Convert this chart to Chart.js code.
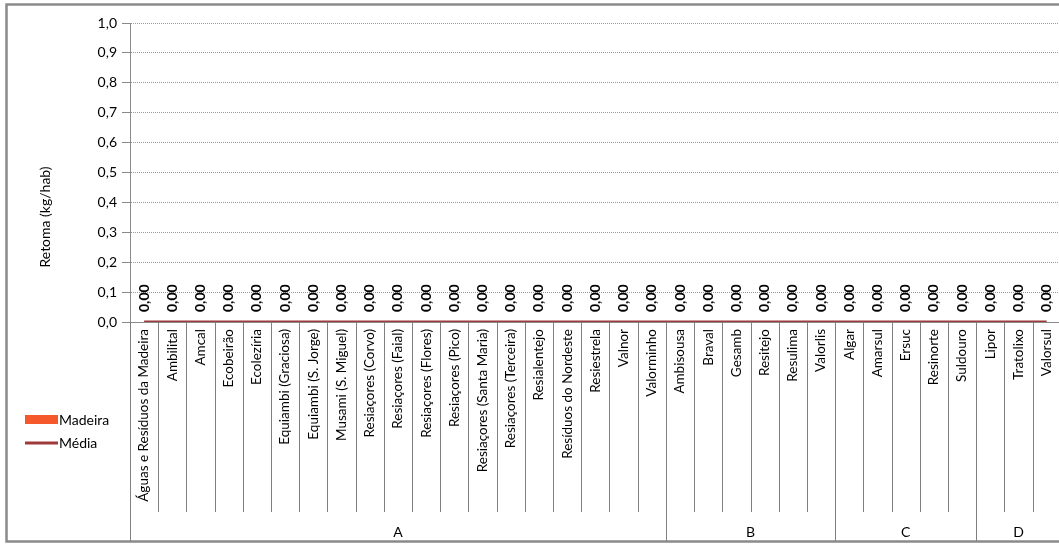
<!DOCTYPE html>
<html>
<head>
<meta charset="utf-8">
<script src="https://cdn.jsdelivr.net/npm/chart.js@4/dist/chart.umd.min.js"></script>
<style>
  html, body { margin: 0; padding: 0; background: #fff; overflow: hidden; }
  #grafico { position: absolute; left: 0; top: 0; }
</style>
</head>
<body>
<canvas id="grafico" width="1070" height="545"></canvas>
<script>
const categorias = [
  'Águas e Resíduos da Madeira', 'Ambilital', 'Amcal', 'Ecobeirão', 'Ecolezíria',
  'Equiambi (Graciosa)', 'Equiambi (S. Jorge)', 'Musami (S. Miguel)', 'Resiaçores (Corvo)',
  'Resiaçores (Faial)', 'Resiaçores (Flores)', 'Resiaçores (Pico)', 'Resiaçores (Santa Maria)',
  'Resiaçores (Terceira)', 'Resialentejo', 'Resíduos do Nordeste', 'Resiestrela', 'Valnor',
  'Valorminho',
  'Ambisousa', 'Braval', 'Gesamb', 'Resitejo', 'Resulima', 'Valorlis',
  'Algar', 'Amarsul', 'Ersuc', 'Resinorte', 'Suldouro',
  'Lipor', 'Tratolixo', 'Valorsul'
];
const grupos = ['A', 'B', 'C', 'D'];
const tamanhoGrupos = [19, 6, 5, 3];
const madeira = [0, 0, 0, 0, 0, 0, 0, 0, 0, 0, 0, 0, 0, 0, 0, 0, 0, 0, 0, 0, 0, 0, 0, 0, 0, 0, 0, 0, 0, 0, 0, 0, 0];
const media = [0, 0, 0, 0, 0, 0, 0, 0, 0, 0, 0, 0, 0, 0, 0, 0, 0, 0, 0, 0, 0, 0, 0, 0, 0, 0, 0, 0, 0, 0, 0, 0, 0];
const tituloY = 'Retoma (kg/hab)';

const FONTE = 'Lato, "Open Sans", sans-serif';
const corMadeira = '#F4582B';
const corMedia = '#9E3A3A';
const corLinha = '#8a8a8a';

// moldura, titulo do eixo, legenda, rotulos e separadores de grupos
const extras = {
  id: 'extras',
  beforeDraw(chart) {
    const ctx = chart.ctx;
    ctx.save();
    ctx.fillStyle = '#fff';
    ctx.fillRect(0, 0, chart.width, chart.height);
    ctx.strokeStyle = corLinha;
    ctx.lineWidth = 2.5;
    // lado direito fica fora da imagem
    ctx.strokeRect(6.5, 4.5, 1100, 537);
    ctx.restore();
  },
  afterDraw(chart) {
    const ctx = chart.ctx;
    const x = chart.scales.x;
    const y = chart.scales.y;
    const base = chart.chartArea.bottom;

    // separadores das categorias
    const limites = [];
    const meia = (x.getPixelForValue(1) - x.getPixelForValue(0)) / 2;
    for (let i = 0; i <= categorias.length; i++) {
      limites.push(i < categorias.length ? x.getPixelForValue(i) - meia : x.getPixelForValue(i - 1) + meia);
    }
    const inicioGrupos = [0];
    tamanhoGrupos.forEach((n, k) => inicioGrupos.push(inicioGrupos[k] + n));

    ctx.save();
    ctx.strokeStyle = '#808080';
    ctx.lineWidth = 1;
    limites.forEach((bx, i) => {
      const px = Math.round(bx) + 0.5;
      ctx.beginPath();
      ctx.moveTo(px, base);
      ctx.lineTo(px, inicioGrupos.includes(i) ? 541 : 512);
      ctx.stroke();
    });

    ctx.fillStyle = '#000';
    ctx.font = '14px ' + FONTE;
    ctx.textAlign = 'center';
    ctx.textBaseline = 'middle';
    grupos.forEach((g, k) => {
      const cx = (limites[inicioGrupos[k]] + limites[inicioGrupos[k + 1]]) / 2;
      ctx.fillText(g, cx, 532);
    });

    // rotulos dos valores
    ctx.font = 'bold 14px ' + FONTE;
    ctx.textAlign = 'left';
    madeira.forEach((v, i) => {
      ctx.save();
      ctx.translate(x.getPixelForValue(i), y.getPixelForValue(v) - 10);
      ctx.rotate(-Math.PI / 2);
      ctx.fillText(v.toFixed(2).replace('.', ','), 0, 0);
      ctx.restore();
    });

    // titulo do eixo y
    ctx.font = '14px ' + FONTE;
    ctx.textAlign = 'center';
    ctx.save();
    ctx.translate(45, 217);
    ctx.rotate(-Math.PI / 2);
    ctx.fillText(tituloY, 0, 0);
    ctx.restore();

    // legenda
    const ds = chart.data.datasets;
    ctx.textAlign = 'left';
    ctx.fillStyle = ds[1].backgroundColor;
    ctx.fillRect(25, 415, 33, 9);
    ctx.strokeStyle = ds[0].borderColor;
    ctx.lineWidth = 3;
    ctx.beginPath();
    ctx.moveTo(25, 443);
    ctx.lineTo(58, 443);
    ctx.stroke();
    ctx.fillStyle = '#000';
    ctx.fillText(ds[1].label, 59, 420);
    ctx.fillText(ds[0].label, 59, 443);
    ctx.restore();
  }
};

new Chart(document.getElementById('grafico'), {
  data: {
    labels: categorias,
    datasets: [
      {
        type: 'line',
        label: 'Média',
        data: media,
        borderColor: corMedia,
        borderWidth: 3,
        pointRadius: 0,
        order: 0
      },
      {
        type: 'bar',
        label: 'Madeira',
        data: madeira,
        backgroundColor: corMadeira,
        order: 1
      }
    ]
  },
  options: {
    responsive: false,
    animation: false,
    layout: { padding: { top: 23, right: 8, left: 0, bottom: 0 } },
    plugins: { legend: { display: false }, tooltip: { enabled: false } },
    scales: {
      x: {
        offset: true,
        grid: { display: false, drawTicks: false },
        border: { display: true, color: corLinha, width: 1 },
        ticks: {
          autoSkip: false,
          minRotation: 90,
          maxRotation: 90,
          padding: 7,
          color: '#000',
          font: { family: FONTE, size: 13.5 }
        },
        afterFit(s) { s.height = 223; }
      },
      y: {
        min: 0,
        max: 1,
        grid: { color: '#9a9a9a', tickColor: corLinha, tickLength: 8, tickBorderDash: [] },
        border: { display: true, color: corLinha, width: 1, dash: [1, 1] },
        ticks: {
          stepSize: 0.1,
          padding: 5,
          color: '#000',
          font: { family: FONTE, size: 14 },
          callback: v => v.toFixed(1).replace('.', ',')
        },
        afterFit(s) { s.width = 130; }
      }
    }
  },
  plugins: [extras]
});
</script>
</body>
</html>
